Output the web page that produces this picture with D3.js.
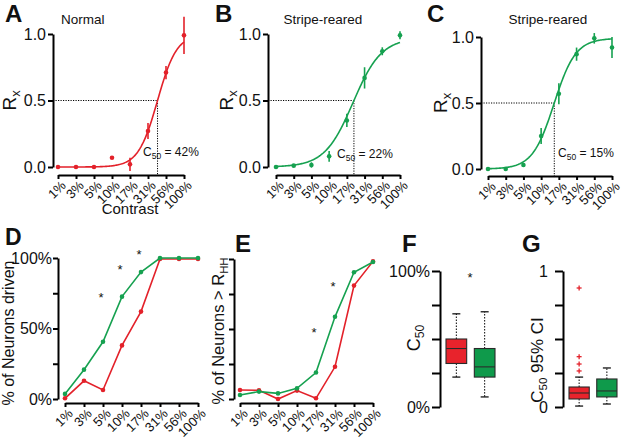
<!DOCTYPE html>
<html><head><meta charset="utf-8">
<script src="https://cdn.jsdelivr.net/npm/d3@7"></script>
<style>
body{margin:0;background:#fff;}
svg text{font-family:"Liberation Sans",Arial,Helvetica,sans-serif;fill:#111;}
</style></head><body>
<svg id="c" width="626" height="439"></svg>
<script>
// ---------------- data ----------------
const contrasts = ["1%","3%","5%","10%","17%","31%","56%","100%"];

// Panel A (Normal)
const normalRx    = [0, 0, 0, 0.07, 0.02, 0.27, 0.71, 0.99];
const normalRxErr = [0.01, 0.01, 0.01, 0, 0.05, 0.06, 0.05, 0.14];
// Panel B (Stripe-reared)
const stripeBRx    = [0, 0.01, 0.015, 0.08, 0.35, 0.67, 0.87, 0.99];
const stripeBRxErr = [0.01, 0.01, 0.02, 0.04, 0.05, 0.08, 0.03, 0.03];
// Panel C (Stripe-reared)
const stripeCRx    = [0, 0, 0.03, 0.25, 0.57, 0.87, 0.99, 0.92];
const stripeCRxErr = [0.01, 0.01, 0.015, 0.06, 0.08, 0.05, 0.04, 0.08];

// sigmoid fit parameters: [top, midpoint (contrast step), slope]
const fitA = [1.0, 5.53, 0.535];
const fitB = [0.97, 4.35, 0.80];
const fitC = [0.99, 3.73, 0.61];
const c50Labels = ["42%", "22%", "15%"];

// Panel D: % of neurons driven
const drivenStripe = [3.6, 20.8, 40.6, 72.6, 90, 100, 100, 100];
const drivenNormal = [0.5, 12.9, 6.4, 38, 62, 99.3, 99.3, 99.3];
const drivenStars  = [[2, 74], [3, 93.5], [4, 104]];

// Panel E: % of neurons > R_HH
const rhhStripe = [2.9, 5.3, 4, 7.6, 18.9, 58.7, 90.5, 97.9];
const rhhNormal = [6.4, 6.2, 0, 6, 0.5, 23, 81, 98.3];
const rhhStars  = [[4, 49], [5, 82]];

// Panel F: C50 box plots (percent)
const groups = ["Normal", "Stripe-reared"];
const c50Box = [
  {lo: 22, q1: 32, med: 43, q3: 50, hi: 68.5, out: []},
  {lo: 7.4, q1: 22, med: 29.5, q3: 43, hi: 70, out: []}
];
// Panel G: C50 95% CI box plots
const ciBox = [
  {lo: 0.007, q1: 0.059, med: 0.103, q3: 0.147, hi: 0.22, out: [0.265, 0.316, 0.37, 0.875]},
  {lo: 0.022, q1: 0.074, med: 0.118, q3: 0.206, hi: 0.287, out: []}
];

// ---------------- style ----------------
const RED = "#e3212a", GREEN = "#16a150";
const BOXRED = "#e8232c", BOXGREEN = "#0f9a4b";
const svg = d3.select("#c");

function styleAxis(g, fs) {
  g.select(".domain").attr("stroke", "#000").attr("stroke-width", 2);
  g.selectAll(".tick line").attr("stroke", "#000").attr("stroke-width", 2);
  g.selectAll(".tick text").attr("font-size", fs).attr("fill", "#111");
}

function letter(t, x, y, fs) {
  svg.append("text").attr("x", x).attr("y", y).attr("font-size", fs || 24)
    .attr("font-weight", "bold").text(t);
}

function vLabel(x, y, fs, parts) {
  const t = svg.append("text").attr("transform", `translate(${x},${y}) rotate(-90)`)
    .attr("text-anchor", "middle").attr("font-size", fs);
  parts.forEach(p => {
    const s = t.append("tspan").text(p[0]);
    if (p[1] === "sub") s.attr("font-size", fs * 0.68).attr("dy", fs * 0.22);
    else if (p[1] === "up") s.attr("dy", -fs * 0.22);
  });
  return t;
}

function xCatAxis(x, yPos, fs) {
  const g = svg.append("g").attr("transform", `translate(0,${yPos})`)
    .call(d3.axisBottom(x).tickSize(4).tickSizeOuter(0).tickPadding(0));
  styleAxis(g, fs);
  g.selectAll(".tick text").attr("text-anchor", "end")
    .attr("transform", "translate(5,8) rotate(-45)").attr("dy", "0.35em").attr("y", 0);
  return g;
}

// ---------------- A, B, C ----------------
function curvePanel(o) {
  const x = d3.scalePoint(contrasts, o.xr);
  const xi = d3.scaleLinear([0, contrasts.length - 1], o.xr);
  const y = d3.scaleLinear([0, 1], o.yr);
  const [top, mid, s] = o.fit;
  const f = t => top / (1 + Math.exp(-(t - mid) / s));
  const c50i = mid - s * Math.log(top / 0.5 - 1);

  const ga = svg.append("g").attr("transform", `translate(${o.ax},0)`)
    .call(d3.axisLeft(y).tickValues([0, 0.5, 1]).tickFormat(d3.format(".1f"))
      .tickSize(5).tickSizeOuter(0).tickPadding(2));
  styleAxis(ga, 16);
  xCatAxis(x, o.xay, 13);

  svg.append("line").attr("x1", o.ax).attr("x2", xi(c50i)).attr("y1", y(0.5)).attr("y2", y(0.5))
    .attr("stroke", "#000").attr("stroke-width", 1).attr("stroke-dasharray", "1.2,1.3");
  svg.append("line").attr("x1", xi(c50i)).attr("x2", xi(c50i)).attr("y1", y(0.5)).attr("y2", o.xay)
    .attr("stroke", "#000").attr("stroke-width", 1).attr("stroke-dasharray", "1.2,1.3");

  const ts = d3.range(0, contrasts.length - 1 + 1e-9, 0.05);
  svg.append("path").datum(ts)
    .attr("d", d3.line().x(t => xi(t)).y(t => y(f(t))))
    .attr("fill", "none").attr("stroke", o.color).attr("stroke-width", 1.6);

  o.mean.forEach((m, i) => {
    const e = o.err[i];
    if (e > 0) svg.append("line").attr("x1", x(contrasts[i])).attr("x2", x(contrasts[i]))
      .attr("y1", y(m - e)).attr("y2", y(m + e)).attr("stroke", o.color).attr("stroke-width", 1.6);
    svg.append("circle").attr("cx", x(contrasts[i])).attr("cy", y(m)).attr("r", 2.3).attr("fill", o.color);
  });

  svg.append("text").attr("x", o.titleX).attr("y", 24).attr("font-size", 13.5)
    .attr("text-anchor", o.titleAnchor).text(o.title);
  const lt = svg.append("text").attr("x", o.labX).attr("y", o.labY).attr("font-size", 12);
  lt.append("tspan").text("C");
  lt.append("tspan").text("50").attr("font-size", 8.5).attr("dy", 3);
  lt.append("tspan").text(" = " + o.c50).attr("dy", -3);
  vLabel(o.rlx, (o.yr[0] + o.yr[1]) / 2, 19, [["R"], ["x", "sub"]]);
}

curvePanel({xr: [58, 184], yr: [167, 34], ax: 53, xay: 175, fit: fitA, color: RED,
  mean: normalRx, err: normalRxErr, title: "Normal", titleX: 61, titleAnchor: "start",
  c50: c50Labels[0], labX: 143, labY: 156, rlx: 16});
curvePanel({xr: [276, 400], yr: [167, 34], ax: 268, xay: 175, fit: fitB, color: GREEN,
  mean: stripeBRx, err: stripeBRxErr, title: "Stripe-reared", titleX: 323, titleAnchor: "middle",
  c50: c50Labels[1], labX: 337, labY: 158, rlx: 233});
curvePanel({xr: [488, 612], yr: [169, 37], ax: 481, xay: 176, fit: fitC, color: GREEN,
  mean: stripeCRx, err: stripeCRxErr, title: "Stripe-reared", titleX: 548, titleAnchor: "middle",
  c50: c50Labels[2], labX: 558, labY: 157, rlx: 447});

svg.append("text").attr("x", 130).attr("y", 214).attr("text-anchor", "middle")
  .attr("font-size", 15).text("Contrast");

letter("A", 5, 22); letter("B", 215, 22); letter("C", 427, 22);

// ---------------- D, E ----------------
function linePanel(o) {
  const x = d3.scalePoint(contrasts, o.xr);
  const y = d3.scaleLinear([0, 100], o.yr);
  const ga = svg.append("g").attr("transform", `translate(${o.ax},0)`)
    .call(d3.axisLeft(y).tickValues([0, 25, 50, 75, 100]).tickFormat(o.fmt)
      .tickSize(5).tickSizeOuter(0).tickPadding(1));
  styleAxis(ga, 16);
  xCatAxis(x, o.xay, 13);
  const ln = d3.line().x((d, i) => x(contrasts[i])).y(d => y(d));
  [[o.red, RED], [o.green, GREEN]].forEach(([vals, col]) => {
    svg.append("path").datum(vals).attr("d", ln).attr("fill", "none")
      .attr("stroke", col).attr("stroke-width", 1.6);
    vals.forEach((v, i) => svg.append("circle").attr("cx", x(contrasts[i])).attr("cy", y(v))
      .attr("r", 2.3).attr("fill", col));
  });
  o.stars.forEach(([i, v]) => svg.append("text").attr("x", x(contrasts[i]) - 2).attr("y", y(v) + 7)
    .attr("text-anchor", "middle").attr("font-size", 13).attr("fill", "#444").text("*"));
}

linePanel({xr: [65, 198], yr: [399, 258], ax: 58, xay: 403,
  red: drivenNormal, green: drivenStripe, stars: drivenStars,
  fmt: d => (d % 50 === 0 ? d + "%" : "")});
linePanel({xr: [240, 373], yr: [399, 259], ax: 234, xay: 403,
  red: rhhNormal, green: rhhStripe, stars: rhhStars, fmt: () => ""});

vLabel(14, 333, 16, [["% of Neurons driven"]]);
vLabel(224, 331, 16.5, [["% of Neurons > R"], ["HH", "sub"]]);
letter("D", 5, 245, 23); letter("E", 235, 252);

// ---------------- F, G ----------------
function boxPanel(o) {
  const y = d3.scaleLinear(o.dom, [407, 271]);
  const x = d3.scaleBand(groups, o.xr).paddingInner(0.27).paddingOuter(0);
  const ga = svg.append("g").attr("transform", `translate(${o.ax},0)`)
    .call(d3.axisLeft(y).tickValues(o.ticks).tickFormat(o.fmt)
      .tickSize(8).tickSizeOuter(0).tickPadding(o.pad));
  styleAxis(ga, 16);
  const bw = x.bandwidth();
  o.data.forEach((b, i) => {
    const x0 = x(groups[i]), cx = x0 + bw / 2;
    const dots = "1.5,1.5";
    svg.append("line").attr("x1", cx).attr("x2", cx).attr("y1", y(b.q3)).attr("y2", y(b.hi))
      .attr("stroke", "#000").attr("stroke-width", 1).attr("stroke-dasharray", dots);
    svg.append("line").attr("x1", cx).attr("x2", cx).attr("y1", y(b.q1)).attr("y2", y(b.lo))
      .attr("stroke", "#000").attr("stroke-width", 1).attr("stroke-dasharray", dots);
    [b.hi, b.lo].forEach(v => svg.append("line").attr("x1", cx - 4).attr("x2", cx + 4)
      .attr("y1", y(v)).attr("y2", y(v)).attr("stroke", "#000").attr("stroke-width", 1.2));
    svg.append("rect").attr("x", x0).attr("y", y(b.q3)).attr("width", bw)
      .attr("height", y(b.q1) - y(b.q3)).attr("fill", o.fills[i])
      .attr("stroke", "#2a2a2a").attr("stroke-width", 1.1);
    svg.append("line").attr("x1", x0).attr("x2", x0 + bw).attr("y1", y(b.med)).attr("y2", y(b.med))
      .attr("stroke", "#2a2a2a").attr("stroke-width", 1.1);
    b.out.forEach(v => {
      svg.append("line").attr("x1", cx - 2.5).attr("x2", cx + 2.5).attr("y1", y(v)).attr("y2", y(v))
        .attr("stroke", RED).attr("stroke-width", 1.3);
      svg.append("line").attr("x1", cx).attr("x2", cx).attr("y1", y(v) - 2.5).attr("y2", y(v) + 2.5)
        .attr("stroke", RED).attr("stroke-width", 1.3);
    });
  });
}

boxPanel({dom: [0, 100], xr: [446, 495], ax: 440, data: c50Box, fills: [BOXRED, BOXGREEN],
  ticks: [0, 25, 50, 75, 100], fmt: d => (d % 100 === 0 ? d + "%" : ""), pad: 2});
boxPanel({dom: [0, 1], xr: [569, 617], ax: 563, data: ciBox, fills: [BOXRED, BOXGREEN],
  ticks: [0, 0.25, 0.5, 0.75, 1], fmt: d => (d === 0 || d === 1 ? d : ""), pad: 7});

svg.append("text").attr("x", 470).attr("y", d3.scaleLinear([0, 100], [407, 271])(97) + 7)
  .attr("text-anchor", "middle").attr("font-size", 13).attr("fill", "#444").text("*");

vLabel(420, 338, 18, [["C"], ["50", "sub"]]);
vLabel(543, 360, 17, [["C"], ["50", "sub"], [" 95% CI", "up"]]);
letter("F", 402, 252); letter("G", 522, 252);
</script>
</body></html>
